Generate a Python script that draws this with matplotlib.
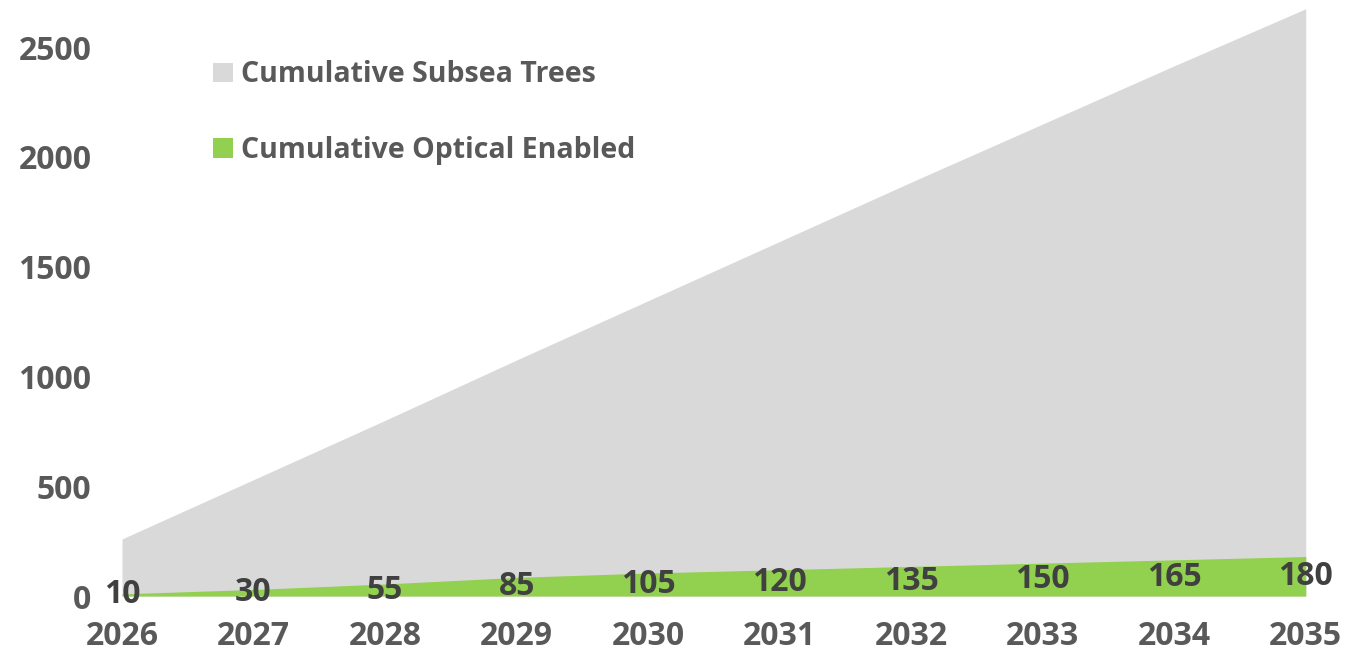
import numpy as np
import matplotlib.pyplot as plt

# cumulative counts per year
years = [2026, 2027, 2028, 2029, 2030, 2031, 2032, 2033, 2034, 2035]
subsea_trees = [260, 530, 800, 1075, 1345, 1615, 1885, 2150, 2415, 2675]
optical_enabled = [10, 30, 55, 85, 105, 120, 135, 150, 165, 180]

plt.rcParams['font.family'] = ['Open Sans', 'DejaVu Sans']
plt.rcParams['font.weight'] = 'bold'

fig = plt.figure(figsize=(13.63, 6.5), dpi=100)
ax = fig.add_axes([0.0895, 0.083, 0.8685, 0.912])

ax.fill_between(years, 0, subsea_trees, color='#d9d9d9', lw=0,
                label='Cumulative Subsea Trees')
ax.fill_between(years, 0, optical_enabled, color='#92d050', lw=0,
                label='Cumulative Optical Enabled')

# value labels sit in the middle of the green band
for x, v in zip(years, optical_enabled):
    ax.text(x, v / 2, str(v), ha='center', va='center', fontsize=23,
            fontweight='bold', color='#404040')

ax.set_xlim(2026, 2035)
ax.set_ylim(0, 2700)
ax.set_xticks(years)
ax.set_yticks([0, 500, 1000, 1500, 2000, 2500])
ax.tick_params(axis='both', length=0, labelsize=23, labelcolor='#595959')
ax.tick_params(axis='y', pad=22)
ax.tick_params(axis='x', pad=17)
for s in ax.spines.values():
    s.set_visible(False)

leg = ax.legend(loc='upper left', bbox_to_anchor=(0.156, 0.907),
                bbox_transform=fig.transFigure, frameon=False, fontsize=20.5,
                handlelength=0.7, handleheight=0.7, handletextpad=0.3,
                labelspacing=1.65, borderaxespad=0, borderpad=0)
for t in leg.get_texts():
    t.set_color('#595959')
    t.set_fontweight('bold')

plt.savefig('out.png', dpi=100)
